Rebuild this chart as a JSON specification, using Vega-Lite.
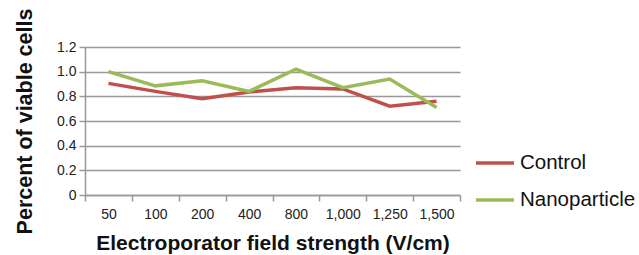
{
  "$schema": "https://vega.github.io/schema/vega-lite/v6.json",
  "width": 375,
  "height": 148,
  "autosize": "none",
  "padding": {"left": 85, "top": 47, "right": 179, "bottom": 60},
  "background": "white",
  "config": {
    "view": {"stroke": null},
    "font": "Liberation Sans"
  },
  "data": {
    "values": [
      {"field": "50", "series": "Control", "value": 0.905},
      {"field": "100", "series": "Control", "value": 0.84},
      {"field": "200", "series": "Control", "value": 0.78},
      {"field": "400", "series": "Control", "value": 0.835},
      {"field": "800", "series": "Control", "value": 0.87},
      {"field": "1,000", "series": "Control", "value": 0.86},
      {"field": "1,250", "series": "Control", "value": 0.72},
      {"field": "1,500", "series": "Control", "value": 0.76},
      {"field": "50", "series": "Nanoparticle", "value": 1.0},
      {"field": "100", "series": "Nanoparticle", "value": 0.885},
      {"field": "200", "series": "Nanoparticle", "value": 0.927},
      {"field": "400", "series": "Nanoparticle", "value": 0.84},
      {"field": "800", "series": "Nanoparticle", "value": 1.02},
      {"field": "1,000", "series": "Nanoparticle", "value": 0.87},
      {"field": "1,250", "series": "Nanoparticle", "value": 0.94},
      {"field": "1,500", "series": "Nanoparticle", "value": 0.71}
    ]
  },
  "mark": {"type": "line", "strokeWidth": 3.5},
  "encoding": {
    "x": {
      "field": "field",
      "type": "nominal",
      "sort": null,
      "bandPosition": 0.5,
      "scale": {"type": "band", "paddingInner": 0, "paddingOuter": 0},
      "title": "Electroporator field strength (V/cm)",
      "axis": {
        "labelAngle": 0,
        "tickBand": "extent",
        "domainColor": "#999999",
        "domainWidth": 1.5,
        "tickColor": "#999999",
        "tickWidth": 1.5,
        "tickSize": 6,
        "labelFontSize": 14,
        "labelColor": "#222222",
        "labelPadding": 6,
        "titleFontSize": 21,
        "titleFontWeight": "bold",
        "titleColor": "#111111",
        "titlePadding": 11
      }
    },
    "y": {
      "field": "value",
      "type": "quantitative",
      "scale": {"domain": [0, 1.2], "nice": false},
      "title": "Percent of viable cells",
      "axis": {
        "values": [0, 0.2, 0.4, 0.6, 0.8, 1.0, 1.2],
        "labelExpr": "datum.value == 0 ? '0' : format(datum.value, '.1f')",
        "grid": true,
        "gridColor": "#999999",
        "gridWidth": 1.5,
        "domainColor": "#999999",
        "domainWidth": 1.5,
        "tickColor": "#999999",
        "tickWidth": 1.5,
        "tickSize": 6,
        "labelFontSize": 14,
        "labelColor": "#222222",
        "labelPadding": 3,
        "titleFontSize": 21.5,
        "titleFontWeight": "bold",
        "titleColor": "#111111",
        "titlePadding": 20
      }
    },
    "color": {
      "field": "series",
      "type": "nominal",
      "scale": {"domain": ["Control", "Nanoparticle"], "range": ["#c0504d", "#9bbb59"]},
      "legend": {
        "title": null,
        "orient": "none",
        "legendX": 389,
        "legendY": 95,
        "symbolType": "stroke",
        "symbolSize": 1444,
        "symbolStrokeWidth": 3.5,
        "labelFontSize": 20.5,
        "labelColor": "#111111",
        "rowPadding": 5,
        "labelOffset": 4
      }
    }
  }
}
